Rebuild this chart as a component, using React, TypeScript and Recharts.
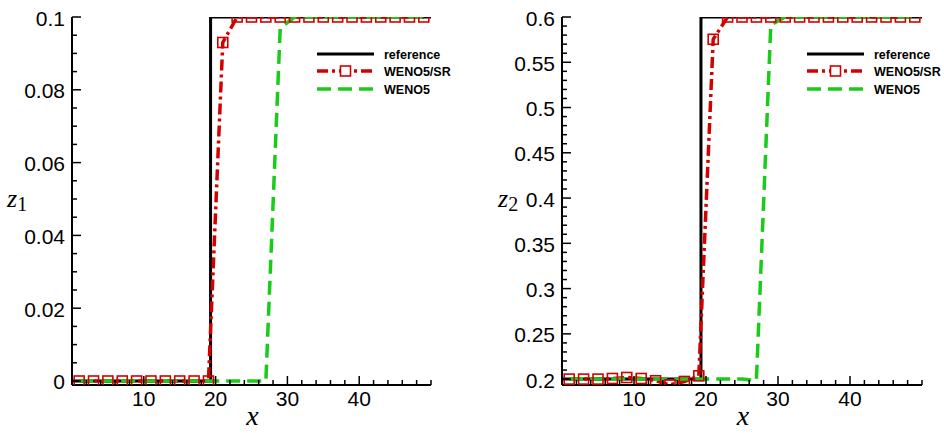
import { Legend, Line, LineChart, XAxis, YAxis } from "recharts"

// grid points where the numerical solutions are stored
const gridX = [1, 3, 5, 7, 9, 11, 13, 15, 17, 19, 21, 23, 25, 27, 29, 31, 33, 35, 37, 39, 41, 43, 45, 47, 49]

// exact solution (a jump at x ~ 19.3)
const refX = [0, 19.3, 19.3, 50]
const refZ1 = [0, 0, 0.1, 0.1]
const refZ2 = [0.2, 0.2, 0.6, 0.6]

const srZ1 = [0, 0, 0, 0, 0, 0, 0, 0, 0, 0, 0.093, 0.1, 0.1, 0.1, 0.1, 0.1, 0.1, 0.1, 0.1, 0.1, 0.1, 0.1, 0.1, 0.1, 0.1]
const wenoZ1 = [0, 0, 0, 0, 0, 0, 0, 0, 0, 0, 0, 0, 0, 0, 0.097, 0.1, 0.1, 0.1, 0.1, 0.1, 0.1, 0.1, 0.1, 0.1, 0.1]

const srZ2 = [0.2, 0.2, 0.2, 0.2007, 0.2018, 0.2007, 0.1982, 0.1937, 0.1974, 0.2036, 0.5754, 0.6, 0.6, 0.6, 0.6, 0.6, 0.6, 0.6, 0.6, 0.6, 0.6, 0.6, 0.6, 0.6, 0.6]
const wenoZ2 = [0.2, 0.2, 0.2, 0.2, 0.2, 0.2, 0.2, 0.2, 0.2, 0.2, 0.2, 0.2, 0.2, 0.1985, 0.5912, 0.6, 0.6, 0.6, 0.6, 0.6, 0.6, 0.6, 0.6, 0.6, 0.6]

const xTicks = [0, 2, 4, 6, 8, 10, 12, 14, 16, 18, 20, 22, 24, 26, 28, 30, 32, 34, 36, 38, 40, 42, 44, 46, 48, 50]
const xLabels = [10, 20, 30, 40]

const z1Ticks = [0, 0.005, 0.01, 0.015, 0.02, 0.025, 0.03, 0.035, 0.04, 0.045, 0.05, 0.055, 0.06, 0.065, 0.07, 0.075, 0.08, 0.085, 0.09, 0.095, 0.1]
const z1Labels = [0, 0.02, 0.04, 0.06, 0.08, 0.1]
const z2Ticks = [0.2, 0.21, 0.22, 0.23, 0.24, 0.25, 0.26, 0.27, 0.28, 0.29, 0.3, 0.31, 0.32, 0.33, 0.34, 0.35, 0.36, 0.37, 0.38, 0.39, 0.4, 0.41, 0.42, 0.43, 0.44, 0.45, 0.46, 0.47, 0.48, 0.49, 0.5, 0.51, 0.52, 0.53, 0.54, 0.55, 0.56, 0.57, 0.58, 0.59, 0.6]
const z2Labels = [0.2, 0.25, 0.3, 0.35, 0.4, 0.45, 0.5, 0.55, 0.6]

const seriesNames = ["reference", "WENO5/SR", "WENO5"]

const RED = "#d40000"
const GREEN = "#19cc19"
const SANS = "'Liberation Sans', Arial, sans-serif"
const SERIF = "'Liberation Serif', 'Times New Roman', serif"

const toPoints = (xs: number[], ys: number[]) => xs.map((x, i) => ({ x, y: ys[i] }))
const isIn = (list: number[], v: number) => list.some((m) => Math.abs(m - v) < 1e-9)

function YTick(props: any) {
  const { x, y, payload, labels } = props
  const major = isIn(labels, payload.value)
  return (
    <g>
      <line x1={x} x2={x + (major ? 9 : 5)} y1={y} y2={y} stroke="#000" strokeWidth={1.5} />
      {major && (
        <text x={x - 7} y={y + 8.5} textAnchor="end" fontSize={21} fontFamily={SANS} fill="#000">
          {String(payload.value)}
        </text>
      )}
    </g>
  )
}

function XTick(props: any) {
  const { x, y, payload } = props
  const major = isIn(xLabels, payload.value)
  return (
    <g>
      <line x1={x} x2={x} y1={y} y2={y - (major ? 9 : 5)} stroke="#000" strokeWidth={1.5} />
      {major && (
        <text x={x} y={y + 21} textAnchor="middle" fontSize={21} fontFamily={SANS} fill="#000">
          {payload.value}
        </text>
      )}
    </g>
  )
}

function SquareDot(props: any) {
  const { cx, cy, index } = props
  if (cx == null || cy == null) return <g key={index} />
  return <rect key={index} x={cx - 5} y={cy - 5} width={10} height={10} fill="none" stroke={RED} strokeWidth={1.6} />
}

function LegendBox() {
  const rows = [10, 27, 45]
  return (
    <svg width={140} height={54} style={{ overflow: "visible" }}>
      <line x1={5} x2={62} y1={rows[0]} y2={rows[0]} stroke="#000" strokeWidth={3} />
      <line x1={5} x2={62} y1={rows[1]} y2={rows[1]} stroke={RED} strokeWidth={3.5} strokeDasharray="11 4 3 4" />
      <rect x={28.5} y={rows[1] - 5} width={10} height={10} fill="#fff" stroke={RED} strokeWidth={1.6} />
      <line x1={5} x2={62} y1={rows[2]} y2={rows[2]} stroke={GREEN} strokeWidth={3.5} strokeDasharray="14 7" />
      {seriesNames.map((name, i) => (
        <text key={name} x={72} y={rows[i] + 4.5} fontSize={12.5} fontWeight="bold" fontFamily={SANS} fill="#000">
          {name}
        </text>
      ))}
    </svg>
  )
}

type PanelProps = {
  width: number
  yAxisWidth: number
  right: number
  yDomain: [number, number]
  yTicks: number[]
  yLabels: number[]
  refY: number[]
  srY: number[]
  wenoY: number[]
  sub: string
  titleX: number
  legendLeft: number
}

function Panel(p: PanelProps) {
  return (
    <LineChart width={p.width} height={433} margin={{ top: 17, right: p.right, bottom: 0, left: 0 }}>
      <XAxis
        type="number"
        dataKey="x"
        domain={[0, 50]}
        ticks={xTicks}
        interval={0}
        height={48}
        tickSize={0}
        tickMargin={0}
        axisLine={{ stroke: "#000", strokeWidth: 2 }}
        tickLine={false}
        tick={(t: any) => <XTick {...t} />}
        label={{
          content: (l: any) => (
            <text
              x={l.viewBox.x + l.viewBox.width / 2 + 1}
              y={425}
              textAnchor="middle"
              fontSize={28}
              fontStyle="italic"
              fontFamily={SERIF}
              fill="#000"
            >
              x
            </text>
          ),
        }}
      />
      <YAxis
        type="number"
        dataKey="y"
        domain={p.yDomain}
        ticks={p.yTicks}
        interval={0}
        width={p.yAxisWidth}
        tickSize={0}
        tickMargin={0}
        allowDataOverflow
        axisLine={{ stroke: "#000", strokeWidth: 2 }}
        tickLine={false}
        tick={(t: any) => <YTick {...t} labels={p.yLabels} />}
        label={{
          content: (l: any) => (
            <text x={p.titleX} y={l.viewBox.y + l.viewBox.height / 2 + 6} fontFamily={SERIF} fill="#000">
              <tspan fontSize={26} fontStyle="italic">z</tspan>
              <tspan fontSize={20} dy={4}>{p.sub}</tspan>
            </text>
          ),
        }}
      />
      <Legend
        layout="vertical"
        align="center"
        verticalAlign="middle"
        wrapperStyle={{ left: p.legendLeft, top: 44, width: 140 }}
        content={() => <LegendBox />}
      />
      <Line
        data={toPoints(refX, p.refY)}
        dataKey="y"
        name={seriesNames[0]}
        type="linear"
        stroke="#000"
        strokeWidth={3}
        dot={false}
        isAnimationActive={false}
      />
      <Line
        data={toPoints(gridX, p.srY)}
        dataKey="y"
        name={seriesNames[1]}
        type="linear"
        stroke={RED}
        strokeWidth={3.5}
        strokeDasharray="11 4 3 4"
        dot={(d: any) => <SquareDot {...d} />}
        isAnimationActive={false}
      />
      <Line
        data={toPoints(gridX, p.wenoY)}
        dataKey="y"
        name={seriesNames[2]}
        type="linear"
        stroke={GREEN}
        strokeWidth={3.5}
        strokeDasharray="14 7"
        dot={false}
        isAnimationActive={false}
      />
    </LineChart>
  )
}

export default function App() {
  return (
    <div style={{ position: "absolute", left: 0, top: 0, width: 944, height: 433, background: "#fff" }}>
      <div style={{ position: "absolute", left: 0, top: 0 }}>
        <Panel
          width={470}
          yAxisWidth={72}
          right={39}
          yDomain={[-0.0011, 0.1]}
          yTicks={z1Ticks}
          yLabels={z1Labels}
          refY={refZ1}
          srY={srZ1}
          wenoY={wenoZ1}
          sub="1"
          titleX={7}
          legendLeft={312}
        />
      </div>
      <div style={{ position: "absolute", left: 470, top: 0 }}>
        <Panel
          width={474}
          yAxisWidth={92}
          right={22}
          yDomain={[0.1935, 0.6]}
          yTicks={z2Ticks}
          yLabels={z2Labels}
          refY={refZ2}
          srY={srZ2}
          wenoY={wenoZ2}
          sub="2"
          titleX={28}
          legendLeft={332}
        />
      </div>
    </div>
  )
}
